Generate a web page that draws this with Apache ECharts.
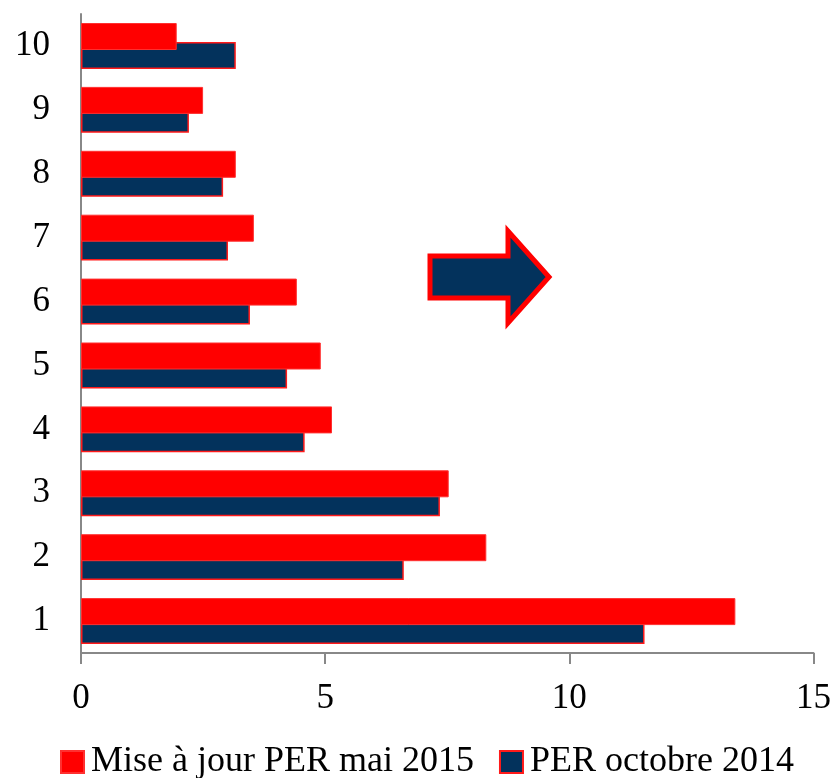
<!DOCTYPE html>
<html>
<head>
<meta charset="utf-8">
<script src="https://cdn.jsdelivr.net/npm/echarts@6/dist/echarts.min.js"></script>
<style>
  html, body { margin: 0; padding: 0; background: #fff; }
  #chart { width: 834px; height: 778px; }
</style>
</head>
<body>
<div id="chart"></div>
<script>
// donnees
var categories = ['1', '2', '3', '4', '5', '6', '7', '8', '9', '10'];
var perMai2015 = [13.4, 8.3, 7.53, 5.14, 4.91, 4.42, 3.54, 3.17, 2.5, 1.96];
var perOct2014 = [11.54, 6.61, 7.35, 4.58, 4.22, 3.46, 3.01, 2.91, 2.21, 3.17];
var xTicks = [0, 5, 10, 15];

var nameMai = 'Mise à jour PER mai 2015';
var nameOct = 'PER octobre 2014';
var serif = '"Liberation Serif", "DejaVu Serif", serif';

var myChart = echarts.init(document.getElementById('chart'));
var option = {
  animation: false,
  grid: { left: 81, right: 20, top: 14, bottom: 125, containLabel: false },
  legend: {
    data: [nameMai, nameOct],
    left: 60,
    top: 744,
    padding: 0,
    itemWidth: 23,
    itemHeight: 22,
    itemGap: 25,
    icon: 'rect',
    textStyle: { fontFamily: serif, fontSize: 36, lineHeight: 36, color: '#000', padding: [0, 0, 0, 2] }
  },
  xAxis: {
    type: 'value',
    min: xTicks[0],
    max: xTicks[xTicks.length - 1],
    interval: 5,
    splitLine: { show: false },
    axisLine: { show: true, lineStyle: { color: '#888', width: 2 } },
    axisTick: { show: true, length: 11, lineStyle: { color: '#888', width: 2 } },
    axisLabel: { fontFamily: serif, fontSize: 35, color: '#000', margin: 28 }
  },
  yAxis: {
    type: 'category',
    data: categories,
    axisLine: { show: true, lineStyle: { color: '#888', width: 2 } },
    axisTick: { show: false },
    axisLabel: { fontFamily: serif, fontSize: 35, color: '#000', margin: 31 }
  },
  series: [
    {
      name: nameMai,
      type: 'bar',
      z: 3,
      data: perMai2015,
      barWidth: 27,
      barGap: '-30%',
      itemStyle: { color: '#ff0000', borderColor: '#ff3030', borderWidth: 1 }
    },
    {
      name: nameOct,
      type: 'bar',
      z: 2,
      data: perOct2014,
      barWidth: 27,
      barGap: '-30%',
      itemStyle: { color: '#03325c', borderColor: '#ff1a1a', borderWidth: 1.5 }
    }
  ],
  graphic: [{
    type: 'polygon',
    shape: {
      points: [[430, 256], [508, 256], [508, 231], [549, 277], [508, 323], [508, 298], [430, 298]]
    },
    style: { fill: '#03325c', stroke: '#ff0000', lineWidth: 5, lineJoin: 'miter' }
  }]
};
myChart.setOption(option);
</script>
</body>
</html>
